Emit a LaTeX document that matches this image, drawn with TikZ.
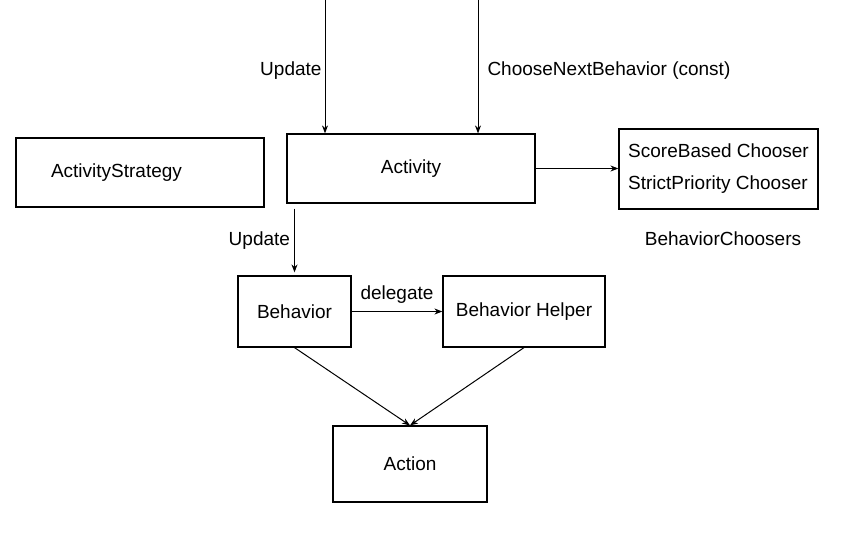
\documentclass[tikz,border=0pt]{standalone}
\usepackage{fontspec}
\setmainfont{Liberation Sans}
\usetikzlibrary{arrows.meta,positioning,calc}

\tikzset{
  box/.style={draw,line width=0.6pt,inner sep=0pt,font=\fontsize{9.5}{11}\selectfont},
  flow/.style={line width=0.5pt,-{Stealth[length=4pt,width=3pt]}},
  lbl/.style={font=\fontsize{9.5}{11}\selectfont,inner sep=2pt}
}

\begin{document}
\begin{tikzpicture}[x=0.5pt,y=-0.5pt]
        \useasboundingbox (0,0) rectangle (844,535);
        % boxes
        \node[box,minimum width=124pt,minimum height=34.5pt,text width=89pt,align=left,inner xsep=17.5pt] (strat) at (140,172.5) {ActivityStrategy};
        \node[box,minimum width=124pt,minimum height=34.5pt] (act) at (411,168.5) {Activity};
        \node[box,minimum width=99.5pt,minimum height=40pt,align=left,font=\fontsize{9.5}{16}\selectfont] (ch) at (718.5,169) {ScoreBased Chooser\\StrictPriority Chooser};
        \node[lbl] (chname) at (723,239) {BehaviorChoosers};
        \node[box,minimum width=56.5pt,minimum height=35.5pt] (beh) at (294.5,311.5) {Behavior};
        \node[box,minimum width=81pt,minimum height=35.5pt] (help) at (524,311.5) {Behavior Helper};
        \node[box,minimum width=77pt,minimum height=38pt] (actn) at (410,464) {Action};
        % incoming calls
        \coordinate (u1) at (325,0);
        \coordinate (u2) at (478,0);
        \draw[flow] (u1) -- (u1 |- act.north) node[lbl,left,pos=0.53,inner xsep=1.5pt] {Update};
        \draw[flow] (u2) -- (u2 |- act.north) node[lbl,right,pos=0.53,inner xsep=4.5pt] {ChooseNextBehavior (const)};
        % links
        \draw[flow] (act.east) -- (act.east -| ch.west);
        \draw[flow,shorten <=2.5pt,shorten >=1.5pt] (beh.north |- act.south) -- (beh.north) node[lbl,left,pos=0.52,inner xsep=2pt] {Update};
        \draw[flow] (beh.east) -- (help.west) node[lbl,above,midway,inner ysep=4pt] {delegate};
        \draw[flow] (beh.south) -- (actn.north);
        \draw[flow] (help.south) -- (actn.north);
\end{tikzpicture}
\end{document}
